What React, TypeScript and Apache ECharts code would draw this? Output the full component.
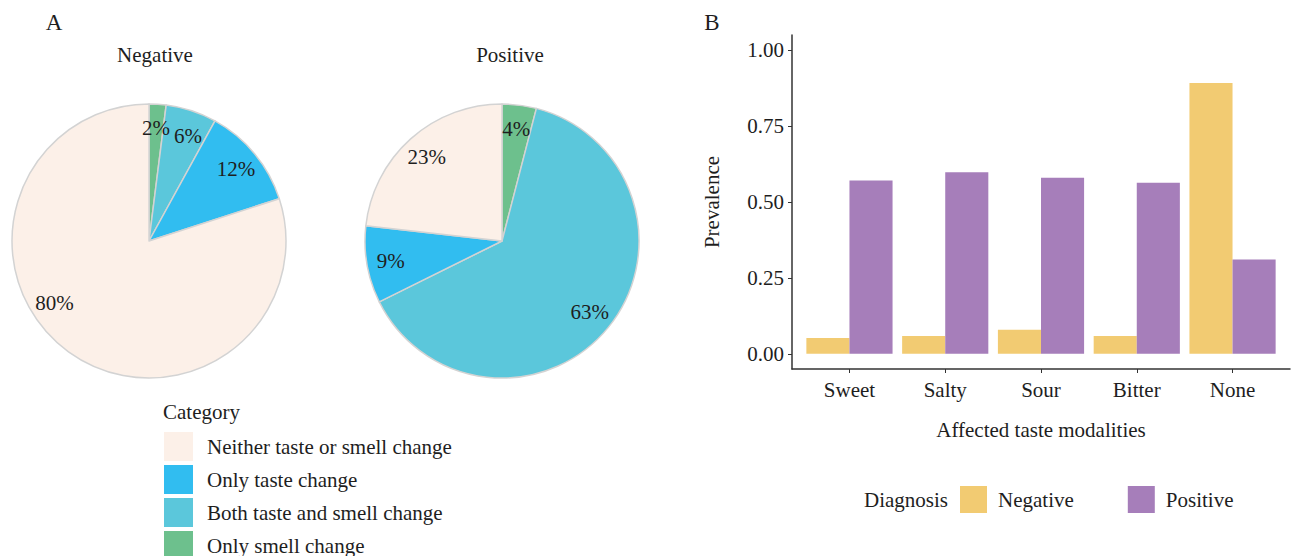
import React, { useEffect, useRef } from "react";
import * as echarts from "echarts";

// ---- Data ----
const pieCategories = [
  "Only smell change",
  "Both taste and smell change",
  "Only taste change",
  "Neither taste or smell change",
];
const legendOrder = [
  "Neither taste or smell change",
  "Only taste change",
  "Both taste and smell change",
  "Only smell change",
];
const negativePie = [2, 6, 12, 80];
const positivePie = [4, 63, 9, 23];
const pieColors = ["#6DC08D", "#5BC7DB", "#31BDF0", "#FCF0E8"];

const tasteCategories = ["Sweet", "Salty", "Sour", "Bitter", "None"];
const negativePrev = [0.052, 0.059, 0.079, 0.059, 0.892];
const positivePrev = [0.571, 0.598, 0.58, 0.563, 0.311];
const yTicks = [0, 0.25, 0.5, 0.75, 1];
const xTicks = [0, 1, 2, 3, 4];

const font = "Liberation Serif";
const ink = "#1e1e1e";
const fs = 21;

function buildOption() {
  const pieData = (vals: number[]) =>
    vals.map((v, i) => ({ name: pieCategories[i], value: v, itemStyle: { color: pieColors[i] } }));
  const negLabelShift: Record<number, number[]> = { 1: [4, 2], 3: [-28, -29] };
  const labelData = (vals: number[], neg: boolean) =>
    vals.map((v, i) => ({
      name: pieCategories[i],
      value: v,
      label: neg && negLabelShift[i] ? { offset: negLabelShift[i] } : {},
    }));
  const mainPie = (center: number[], vals: number[]) => ({
    type: "pie",
    center,
    radius: 137,
    startAngle: 90,
    clockwise: true,
    silent: true,
    data: pieData(vals),
    label: { show: false },
    labelLine: { show: false },
    itemStyle: { borderColor: "#d3d3d3", borderWidth: 1.5 },
    emphasis: { disabled: true },
  });
  const labelPie = (center: number[], vals: number[], neg: boolean) => ({
    type: "pie",
    center,
    radius: [83, 137],
    startAngle: 90,
    clockwise: true,
    silent: true,
    avoidLabelOverlap: false,
    minShowLabelAngle: 0,
    labelLayout: { hideOverlap: false },
    data: labelData(vals, neg),
    itemStyle: { color: "rgba(0,0,0,0)", borderWidth: 0 },
    label: {
      show: true,
      position: "inside",
      formatter: "{c}%",
      fontFamily: font,
      fontSize: fs,
      color: ink,
    },
    labelLine: { show: false },
    emphasis: { disabled: true },
  });

  const txt = (text: string, x: number, y: number, size = fs, align = "center") => ({
    type: "text",
    x,
    y,
    style: { text, fontFamily: font, fontSize: size, fill: ink, textAlign: align, textVerticalAlign: "middle" },
  });

  return {
    animation: false,
    backgroundColor: "#ffffff",
    textStyle: { fontFamily: font, color: ink },
    graphic: [
      txt("A", 54, 22, 23),
      txt("B", 712, 22, 23),
      txt("Negative", 155, 55),
      txt("Positive", 510, 55),
      txt("Category", 163, 412, fs, "left"),
      txt("Diagnosis", 864, 500, fs, "left"),
    ],
    legend: [
      {
        data: legendOrder,
        orient: "vertical",
        left: 164,
        top: 432,
        height: 160,
        padding: 0,
        itemWidth: 29,
        itemHeight: 29,
        itemGap: 4,
        icon: "rect",
        selectedMode: false,
        itemStyle: { borderWidth: 0 },
        textStyle: { fontFamily: font, fontSize: fs, color: ink, padding: [0, 0, 0, 9] },
      },
      {
        data: ["Negative", "Positive"],
        orient: "horizontal",
        left: 960,
        top: 486,
        padding: 0,
        itemWidth: 27,
        itemHeight: 27,
        itemGap: 54,
        icon: "rect",
        selectedMode: false,
        textStyle: { fontFamily: font, fontSize: fs, color: ink, padding: [0, 0, 0, 6] },
      },
    ],
    grid: { left: 792, right: 3, top: 35, bottom: 187, containLabel: false },
    xAxis: {
      type: "value",
      min: -0.6,
      max: 4.6,
      name: "Affected taste modalities",
      nameLocation: "middle",
      nameGap: 50,
      nameTextStyle: { fontFamily: font, fontSize: fs, color: ink },
      axisLine: { show: true, onZero: false, lineStyle: { color: "#333", width: 1.5 } },
      axisTick: { show: true, customValues: xTicks, length: 4, lineStyle: { color: "#333" } },
      axisLabel: {
        customValues: xTicks,
        formatter: (v: number) => tasteCategories[Math.round(v)] ?? "",
        margin: 10,
        fontFamily: font,
        fontSize: fs,
        color: ink,
      },
      splitLine: { show: false },
    },
    yAxis: {
      type: "value",
      min: -0.05,
      max: 1.05,
      name: "Prevalence",
      nameLocation: "middle",
      nameGap: 70,
      nameRotate: 90,
      nameTextStyle: { fontFamily: font, fontSize: fs, color: ink },
      axisLine: { show: true, onZero: false, lineStyle: { color: "#333", width: 1.5 } },
      axisTick: { show: true, customValues: yTicks, length: 4, lineStyle: { color: "#333" } },
      axisLabel: {
        customValues: yTicks,
        formatter: (v: number) => v.toFixed(2),
        margin: 8,
        fontFamily: font,
        fontSize: fs,
        color: ink,
      },
      splitLine: { show: false },
    },
    series: [
      mainPie([149, 241], negativePie),
      mainPie([502, 241], positivePie),
      labelPie([149, 241], negativePie, true),
      labelPie([502, 241], positivePie, false),
      {
        type: "bar",
        name: "Negative",
        data: negativePrev.map((v, i) => [xTicks[i], v]),
        barWidth: "45%",
        barGap: "0%",
        itemStyle: { color: "#F2CB72" },
        silent: true,
      },
      {
        type: "bar",
        name: "Positive",
        data: positivePrev.map((v, i) => [xTicks[i], v]),
        barWidth: "45%",
        barGap: "0%",
        itemStyle: { color: "#A67EBA" },
        silent: true,
      },
    ],
  };
}

export default function App() {
  const ref = useRef<HTMLDivElement>(null);
  useEffect(() => {
    if (!ref.current) return;
    const chart = echarts.init(ref.current, null, { renderer: "svg" });
    chart.setOption(buildOption() as any);
    return () => chart.dispose();
  }, []);
  return (
    <div
      ref={ref}
      style={{ position: "absolute", left: 0, top: 0, width: 1293, height: 556, background: "#fff" }}
    />
  );
}
